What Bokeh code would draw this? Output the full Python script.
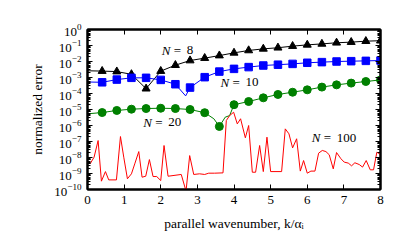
import numpy as np
from bokeh.plotting import figure
from bokeh.models import LinearAxis, LogAxis, FixedTicker, Range1d, ColumnDataSource, LogTickFormatter
from bokeh.core.properties import value
from bokeh.embed import file_html
from bokeh.resources import INLINE

# ---- data (log10 of the normalized error) ----
k_mark = [0.4, 0.8, 1.2, 1.6, 2.0, 2.4, 2.8, 3.2, 3.6, 4.0, 4.4, 4.8, 5.2, 5.6, 6.0, 6.4, 6.8, 7.2, 7.6, 8.0]

log_n8 = [-2.60, -2.63, -2.80, -3.70, -2.60, -2.23, -1.94, -1.79, -1.63, -1.46,
          -1.31, -1.21, -1.14, -1.04, -0.96, -0.90, -0.83, -0.79, -0.73, -0.70]
log_n10 = [-3.30, -3.13, -3.02, -3.02, -3.15, -3.42, -3.63, -2.98, -2.63, -2.46,
           -2.35, -2.25, -2.20, -2.15, -2.08, -2.04, -2.00, -1.98, -1.96, -1.94]
log_n20 = [-5.19, -5.06, -4.98, -4.94, -4.92, -4.94, -5.00, -5.20, -6.06, -4.70,
           -4.50, -4.27, -4.06, -3.92, -3.77, -3.60, -3.46, -3.35, -3.25, -3.15]

# continuous lines (finer detail than the markers)
k_line8 = [0.0] + k_mark
log_line8 = [-2.58] + log_n8
k_line10 = [0.0, 0.4, 0.8, 1.2, 1.6, 2.0, 2.4, 2.68, 2.8, 3.2, 3.6, 4.0, 4.4, 4.8, 5.2, 5.6, 6.0, 6.4, 6.8, 7.2, 7.6, 8.0]
log_line10 = [-3.28, -3.30, -3.13, -3.02, -3.02, -3.15, -3.42, -4.15, -3.63, -2.98, -2.63, -2.46,
              -2.35, -2.25, -2.20, -2.15, -2.08, -2.04, -2.00, -1.98, -1.96, -1.94]
k_line20 = [0.0, 0.4, 0.8, 1.2, 1.6, 2.0, 2.4, 2.8, 3.2, 3.45, 3.6, 3.76, 3.88, 4.0, 4.4, 4.8, 5.2, 5.6, 6.0, 6.4, 6.8, 7.2, 7.6, 8.0]
log_line20 = [-5.27, -5.19, -5.06, -4.98, -4.94, -4.92, -4.94, -5.00, -5.20, -5.58, -6.06, -5.48, -5.38, -4.70,
              -4.50, -4.27, -4.06, -3.92, -3.77, -3.60, -3.46, -3.35, -3.25, -3.15]

k_n100 = [0.07, 0.18, 0.29, 0.38, 0.49, 0.58, 0.79, 0.90, 0.99, 1.09, 1.20, 1.29, 1.40, 1.49, 1.59,
          1.69, 1.79, 1.89, 2.00, 2.09, 2.20, 2.56, 2.69, 2.79, 2.90, 3.06, 3.20, 3.31, 3.47, 3.70,
          3.79, 3.88, 3.99, 4.09, 4.18, 4.31, 4.40, 4.50, 4.59, 4.70, 4.80, 4.90, 5.00, 5.30, 5.40,
          5.50, 5.60, 5.71, 5.81, 5.90, 6.00, 6.10, 6.21, 6.31, 6.41, 6.51, 6.60, 6.71, 6.80, 6.92,
          7.01, 7.12, 7.21, 7.30, 7.42, 7.51, 7.61, 7.72, 7.81, 7.90, 8.00]
log_n100 = [-8.40, -7.98, -6.94, -9.48, -8.88, -9.40, -9.40, -6.69, -7.98, -9.33, -9.02, -8.40, -7.63, -9.23, -9.17,
            -8.13, -9.19, -9.19, -9.44, -7.25, -9.17, -9.06, -10.10, -7.88, -9.06, -9.02, -9.06, -8.98, -8.98, -8.96,
            -5.69, -5.38, -5.17, -5.90, -5.58, -6.77, -6.00, -8.92, -8.92, -7.25, -8.88, -6.73, -8.88, -8.88, -6.21,
            -6.52, -7.40, -6.83, -8.85, -8.19, -8.98, -8.85, -8.85, -7.73, -7.56, -7.63, -7.83, -8.71, -7.69, -8.08,
            -8.29, -8.35, -8.52, -8.33, -8.44, -8.60, -8.19, -8.77, -8.77, -7.67, -7.81]

x_ticks = [0, 1, 2, 3, 4, 5, 6, 7, 8]
y_exps = list(range(-10, 1))

ann_labels = ["8", "10", "20", "100"]
ann_k = [2.03, 3.63, 1.52, 6.12]
ann_log = [-1.31, -3.29, -5.79, -6.77]

def p10(a):
    return [10.0 ** v for v in a]

FONT = "Liberation Serif"

p = figure(width=398, height=244, x_range=Range1d(0, 8), y_range=Range1d(1e-10, 1),
           y_axis_type="log", output_backend="svg", toolbar_location=None,
           min_border_left=87, min_border_right=18, min_border_top=29, min_border_bottom=55)
p.grid.visible = False
p.outline_line_color = "black"
p.outline_line_width = 2
p.background_fill_color = "white"
p.border_fill_color = "white"

minor_y = [m * 10.0 ** e for e in range(-10, 0) for m in range(2, 10)]
yticker = FixedTicker(ticks=[10.0 ** e for e in y_exps], minor_ticks=minor_y)
xticker = FixedTicker(ticks=x_ticks, minor_ticks=[])

def style(ax, labels=True):
    ax.axis_line_width = 2
    ax.axis_line_color = "black"
    ax.major_tick_in = 5
    ax.major_tick_out = 0
    ax.minor_tick_in = 3
    ax.minor_tick_out = 0
    ax.major_tick_line_width = 1
    ax.major_tick_line_color = "black"
    ax.minor_tick_line_color = "black"
    ax.major_label_text_font = FONT
    ax.major_label_text_font_size = "13px"
    ax.major_label_text_color = "black"
    ax.axis_label_text_font = FONT
    ax.axis_label_text_font_size = "13.5px"
    ax.axis_label_text_font_style = "normal"
    ax.axis_label_text_color = "black"
    if not labels:
        ax.major_label_text_font_size = "0px"
        ax.major_label_text_alpha = 0

xa = p.xaxis[0]
xa.ticker = xticker
style(xa)
xa.major_label_standoff = 6
xa.axis_label = "parallel wavenumber, k/αᵢ"
xa.axis_label_standoff = 9

ya = p.yaxis[0]
ya.ticker = yticker
ya.formatter = LogTickFormatter()
style(ya)
ya.major_label_standoff = 6
ya.axis_label = "normalized error"
ya.axis_label_standoff = 6

top = LinearAxis(ticker=xticker, major_label_overrides={t: "" for t in x_ticks})
style(top, labels=False)
p.add_layout(top, "above")
right = LogAxis(ticker=yticker, major_label_overrides={10.0 ** e: "" for e in y_exps})
style(right, labels=False)
p.add_layout(right, "right")

# series
p.line(k_line8, p10(log_line8), line_color="black", line_width=1)
p.scatter(k_mark, p10(log_n8), marker="triangle", size=8, fill_color="black", line_color="black")

p.line(k_line10, p10(log_line10), line_color="blue", line_width=1)
p.scatter(k_mark, p10(log_n10), marker="square", size=7.5, fill_color="blue", line_color="blue")

p.line(k_line20, p10(log_line20), line_color="green", line_width=1)
p.scatter(k_mark, p10(log_n20), marker="circle", size=8, fill_color="green", line_color="green")

p.line(k_n100, p10(log_n100), line_color="red", line_width=1)

# annotations  "N = .."
src = ColumnDataSource(dict(x=ann_k, y=p10(ann_log), n=["N"] * 4, eq=["="] * 4, num=ann_labels))
p.text(x="x", y="y", text="n", source=src, text_font=value(FONT), text_font_size="13px",
       text_font_style="italic", text_align="left", text_baseline="middle", text_color="black")
p.text(x="x", y="y", text="eq", source=src, text_font=value(FONT), text_font_size="13px",
       text_align="left", text_baseline="middle", text_color="black", x_offset=12)
p.text(x="x", y="y", text="num", source=src, text_font=value(FONT), text_font_size="13px",
       text_align="left", text_baseline="middle", text_color="black", x_offset=25)

open("out.html", "w").write(file_html(p, INLINE))
